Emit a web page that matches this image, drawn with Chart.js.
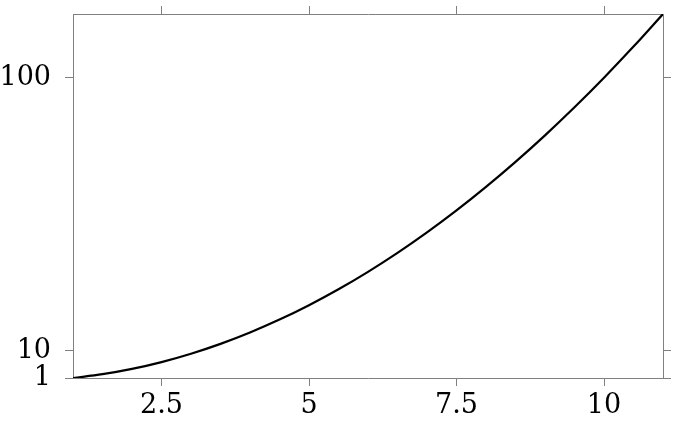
<!DOCTYPE html>
<html>
<head>
<meta charset="utf-8">
<script src="https://cdn.jsdelivr.net/npm/chart.js@4"></script>
<style>
  html, body { margin: 0; padding: 0; background: #fff; }
  #wrap { width: 678px; height: 424px; }
</style>
</head>
<body>
<div id="wrap"><canvas id="chart" width="678" height="424"></canvas></div>
<script>
// values
const xs = [1, 1.5, 2, 2.5, 3, 3.5, 4, 4.5, 5, 5.5, 6, 6.5, 7, 7.5, 8, 8.5, 9, 9.5, 10, 10.5, 11];
const ys = [1, 2.25, 4, 6.25, 9, 12.25, 16, 20.25, 25, 30.25, 36, 42.25, 49, 56.25, 64, 72.25, 81, 90.25, 100, 110.25, 121];
const xTicks = [2.5, 5, 7.5, 10];
const yTicks = [1, 10, 100];

const axisGray = '#808080';
const font = { family: 'DejaVu Serif', size: 27 };

function fixedTicks(list) {
    return function(scale) {
        scale.ticks = list.map(v => ({ value: v }));
    };
}

// pin each axis box so the plot area lands where the reference has it
function sized(w, h) {
    return function(scale) {
        if (w !== null) scale.width = w;
        if (h !== null) scale.height = h;
        scale.paddingTop = 0;
        scale.paddingBottom = 0;
        scale.paddingLeft = 0;
        scale.paddingRight = 0;
    };
}

let points = xs.map((x, i) => ({ x: x, y: ys[i] }));

new Chart(document.getElementById('chart').getContext('2d'), {
    type: 'line',
    data: {
        datasets: [{
            data: points,
            borderColor: '#000',
            borderWidth: 2.2,
            pointRadius: 0,
            fill: false,
            cubicInterpolationMode: 'monotone'
        }]
    },
    options: {
        responsive: false,
        animation: false,
        layout: { padding: 0 },
        plugins: { legend: { display: false }, tooltip: { enabled: false } },
        scales: {
            x: {
                type: 'linear', position: 'bottom', min: 1, max: 11,
                afterBuildTicks: fixedTicks(xTicks),
                afterFit: sized(null, 46),
                border: { color: axisGray, width: 1 },
                grid: { drawOnChartArea: false, color: axisGray, tickLength: 8 },
                ticks: { color: '#000', font: font, padding: 4, maxRotation: 0, callback: v => String(v) }
            },
            x2: {
                type: 'linear', position: 'top', min: 1, max: 11,
                afterBuildTicks: fixedTicks(xTicks),
                afterFit: sized(null, 14),
                border: { color: axisGray, width: 1 },
                grid: { drawOnChartArea: false, color: axisGray, tickLength: 8 },
                ticks: { display: false }
            },
            y: {
                type: 'linear', position: 'left', min: 1, max: 121,
                afterBuildTicks: fixedTicks(yTicks),
                afterFit: sized(73, null),
                border: { color: axisGray, width: 1 },
                grid: { drawOnChartArea: false, color: axisGray, tickLength: 8 },
                ticks: { color: '#000', font: font, padding: 14, callback: v => String(v) }
            },
            y2: {
                type: 'linear', position: 'right', min: 1, max: 121,
                afterBuildTicks: fixedTicks(yTicks),
                afterFit: sized(15, null),
                border: { color: axisGray, width: 1 },
                grid: { drawOnChartArea: false, color: axisGray, tickLength: 8 },
                ticks: { display: false }
            }
        }
    }
});
</script>
</body>
</html>
